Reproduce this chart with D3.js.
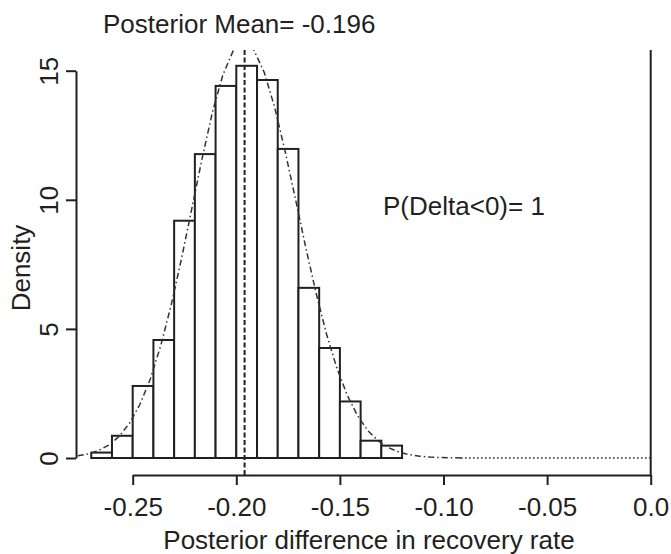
<!DOCTYPE html>
<html><head><meta charset="utf-8">
<script src="https://cdn.jsdelivr.net/npm/d3@7"></script>
<style>
body{margin:0;background:#fff}
svg{display:block}
text{font-family:"Liberation Sans",Arial,Helvetica,sans-serif;fill:#231f20}
</style>
</head><body>
<svg id="chart" width="671" height="554"></svg>
<script>
// ---------- data ----------
const binStarts = [-0.27,-0.26,-0.25,-0.24,-0.23,-0.22,-0.21,-0.20,-0.19,-0.18,-0.17,-0.16,-0.15,-0.14,-0.13];
const binWidth = 0.01;
const binDensity = [0.21,0.86,2.79,4.57,9.19,11.77,14.41,15.19,14.64,11.97,6.59,4.26,2.19,0.67,0.48];

const curveX = [-0.2765,-0.2715,-0.2665,-0.2615,-0.2565,-0.2515,-0.2465,-0.2415,-0.2365,-0.2315,-0.2265,-0.2215,-0.2165,-0.2115,-0.2065,-0.2015,-0.1965,-0.1915,-0.1865,-0.1815,-0.1765,-0.1715,-0.1665,-0.1615,-0.1565,-0.1515,-0.1465,-0.1415,-0.1365,-0.1315,-0.1265,-0.1215,-0.1165,-0.1115,-0.1065,-0.1015,-0.0965,-0.0915];
const curveY = [0.085,0.16,0.29,0.50,0.84,1.35,2.08,3.06,4.34,5.90,7.70,9.65,11.6,13.4,14.83,15.77,16.1,15.8,14.93,13.59,11.9,10.05,8.16,6.39,4.81,3.49,2.44,1.64,1.06,0.66,0.40,0.23,0.13,0.07,0.036,0.018,0.008,0.004];

const tailStart = -0.0915;
const tailEnd = 0.0;

const xTicks = [-0.25,-0.20,-0.15,-0.10,-0.05,0.0];
const xTickLabels = ["-0.25","-0.20","-0.15","-0.10","-0.05","0.0"];
const yTicks = [0,5,10,15];
const yTickLabels = ["0","5","10","15"];

const posteriorMean = -0.196;
const titleText = "Posterior Mean= -0.196";
const probText = "P(Delta<0)= 1";
const xLabel = "Posterior difference in recovery rate";
const yLabel = "Density";

// ---------- layout ----------
const W = 671, H = 554;
const ink = "#231f20";
const fontSize = 26;
const plotLeft = 76, plotRight = 673, plotTop = 50, plotBottom = 475;

const x = d3.scaleLinear().domain([-0.25, 0]).range([132.7, 650.7]);
const y = d3.scaleLinear().domain([0, 15]).range([458, 70.7]);

const svg = d3.select("#chart");
svg.append("rect").attr("width", W).attr("height", H).attr("fill", "#fff");

svg.append("defs").append("clipPath").attr("id", "plotClip")
  .append("rect").attr("x", plotLeft).attr("y", plotTop)
  .attr("width", plotRight - plotLeft).attr("height", plotBottom - plotTop);

// bars
svg.append("g").selectAll("rect").data(binStarts).join("rect")
  .attr("x", d => x(d))
  .attr("width", d => x(d + binWidth) - x(d))
  .attr("y", (d, i) => y(binDensity[i]))
  .attr("height", (d, i) => y(0) - y(binDensity[i]))
  .attr("fill", "#fff").attr("stroke", ink).attr("stroke-width", 2);

const plot = svg.append("g").attr("clip-path", "url(#plotClip)");

// density curve
const curve = curveX.map((v, i) => [v, curveY[i]]);
plot.append("path")
  .attr("d", d3.line().x(d => x(d[0])).y(d => y(d[1]))(curve))
  .attr("fill", "none").attr("stroke", "#333").attr("stroke-width", 1.5)
  .attr("stroke-dasharray", "6,3,1.5,3");

// tail near zero (dotted)
plot.append("line")
  .attr("x1", x(tailStart)).attr("x2", x(tailEnd))
  .attr("y1", y(0)).attr("y2", y(0))
  .attr("stroke", ink).attr("stroke-width", 1.3).attr("stroke-dasharray", "1.5,2.5");

// posterior mean line
plot.append("line")
  .attr("x1", x(posteriorMean)).attr("x2", x(posteriorMean))
  .attr("y1", plotTop).attr("y2", plotBottom)
  .attr("stroke", ink).attr("stroke-width", 2).attr("stroke-dasharray", "5,2.5");

// zero reference line
plot.append("line")
  .attr("x1", x(0)).attr("x2", x(0))
  .attr("y1", plotTop).attr("y2", plotBottom)
  .attr("stroke", ink).attr("stroke-width", 2);

// x axis
const gx = svg.append("g").attr("transform", `translate(0,${plotBottom})`)
  .call(d3.axisBottom(x).tickValues(xTicks).tickFormat((d, i) => xTickLabels[i])
    .tickSize(10).tickSizeOuter(0));
gx.attr("font-family", null).attr("font-size", null);
gx.selectAll("path,line").attr("stroke", ink).attr("stroke-width", 2);
gx.selectAll("text").attr("y", 41).attr("dy", null)
  .attr("font-size", fontSize).attr("fill", ink);

// y axis
const gy = svg.append("g").attr("transform", `translate(${plotLeft},0)`)
  .call(d3.axisLeft(y).tickValues(yTicks).tickFormat((d, i) => yTickLabels[i])
    .tickSize(10).tickSizeOuter(0));
gy.attr("font-family", null).attr("font-size", null);
gy.selectAll("path,line").attr("stroke", ink).attr("stroke-width", 2);
gy.selectAll("text")
  .attr("x", null).attr("dy", null)
  .attr("text-anchor", "middle")
  .attr("transform", "translate(-17.7,0) rotate(-90)")
  .attr("font-size", fontSize).attr("fill", ink);

// title & annotations
svg.append("text").attr("x", 103).attr("y", 33)
  .attr("font-size", fontSize).text(titleText);
svg.append("text").attr("x", 383).attr("y", 215)
  .attr("font-size", fontSize).text(probText);
svg.append("text").attr("x", 369).attr("y", 549)
  .attr("text-anchor", "middle").attr("font-size", fontSize).text(xLabel);
svg.append("text")
  .attr("transform", "translate(29.5,268) rotate(-90)")
  .attr("text-anchor", "middle").attr("font-size", fontSize).text(yLabel);
</script>
</body></html>
